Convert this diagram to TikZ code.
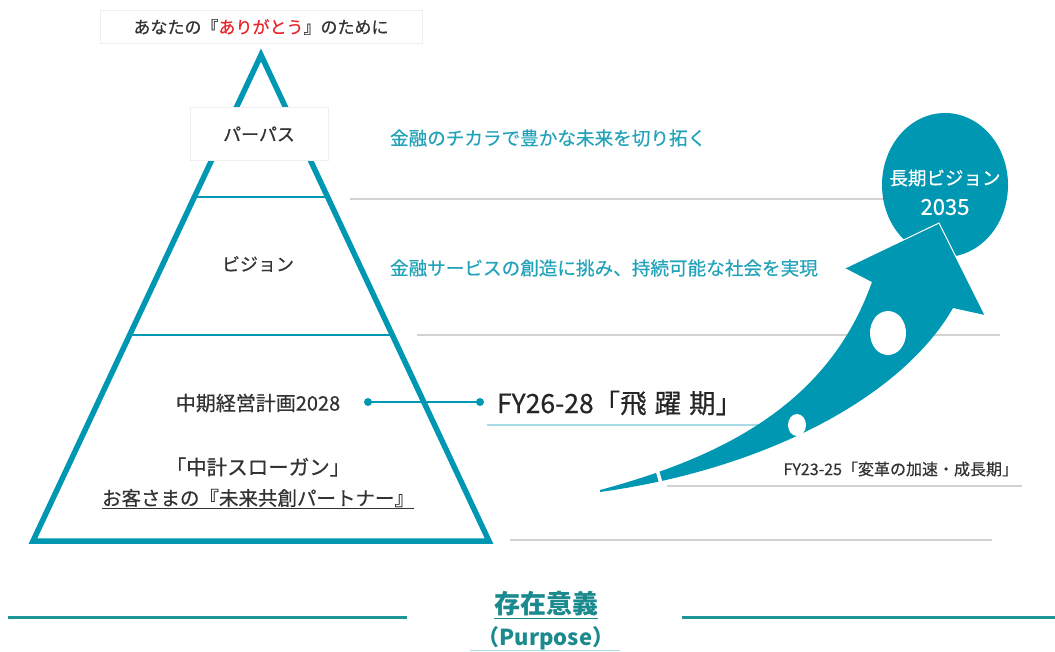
\documentclass[tikz,border=0pt]{standalone}
\usepackage{fontspec}
\setmainfont{Noto Sans CJK JP}
\newfontfamily\medf{Noto Sans CJK JP}[FakeBold=0.5]
\usetikzlibrary{shapes.geometric}
\definecolor{tealA}{HTML}{0097B2}
\definecolor{tealT}{HTML}{23A3BA}
\definecolor{tealL}{HTML}{A6DCE6}
\definecolor{tealB}{HTML}{1E9696}
\definecolor{tealBT}{HTML}{1B8A8E}
\definecolor{lgray}{HTML}{D2D2D2}
\definecolor{boxgray}{HTML}{EEEEEE}
\definecolor{txt}{HTML}{333333}
\definecolor{redT}{HTML}{E8262B}
\newcommand\fsz[1]{\fontsize{#1}{#1}\selectfont}
\begin{document}
\begin{tikzpicture}[x=1pt,y=-1pt,
  every node/.style={inner sep=0pt, outer sep=0pt},
  gline/.style={draw=lgray, line width=2},
  tri/.style={draw=tealA, line width=5.5, line join=miter},
  divider/.style={draw=tealA, line width=2.5},
  lbl/.style={text=txt},
  right txt/.style={text=tealT, anchor=west, font=\medf\fsz{18.6}},
  bline/.style={draw=tealB, line width=3}]
\useasboundingbox (0,0) rectangle (1055,651);
% gray guide lines
\draw[gline] (350,199) -- (1005,199);
\draw[gline] (417,335) -- (1000,335);
\draw[gline] (667,486) -- (1022,486);
\draw[gline] (510,540) -- (992,540);
% light teal underline of FY26-28
\draw[draw=tealL, line width=2] (487,425) -- (760,425);
% pyramid
\draw[divider] (195,197) -- (327,197);
\draw[divider] (130,335) -- (392,335);
\draw[tri] (261,55) -- (33,541) -- (489,541) -- cycle;
% top title box
\node[fill=white, draw=boxgray, minimum width=322, minimum height=33] (titlebox) at (261,27) {};
\node[font=\medf\fsz{17}] (title) at (261,27) {\color{txt}あなたの『\color{redT}ありがとう\color{txt}』のために};
% purpose box
\node[fill=white, draw=boxgray, minimum width=138, minimum height=53, lbl, font=\medf\fsz{18}] (purp) at (259,134) {パーパス};
\node[lbl, font=\medf\fsz{18}] (vis) at (258,264) {ビジョン};
\node[lbl, font=\medf\fsz{20}] (mid) at (258,403) {中期経営計画2028};
\node[lbl, font=\medf\fsz{20.5}] (slogan1) at (258,467) {「中計スローガン」};
\node[lbl, font=\medf\fsz{19.5}] (slogan2) at (258,499) {\underline{お客さまの『未来共創パートナー』}};
% right texts
\node[right txt] (purptxt) at (390,138) {金融のチカラで豊かな未来を切り拓く};
\node[right txt] (vistxt) at (390,268) {金融サービスの創造に挑み、持続可能な社会を実現};
\node[anchor=west, text=black!85, font=\medf\fsz{26.5}] (fy26) at (497,403) {FY26-28「飛\hspace{0.3em}躍\hspace{0.3em}期」};
\node[anchor=east, lbl, font=\medf\fsz{16}] (fy23) at (1018,469) {FY23-25「変革の加速・成長期」};
% connector
\coordinate (dA) at (368,402);
\coordinate (dB) at (480,402);
\draw[draw=tealA, line width=2] (dA) -- (dB);
\fill[tealA] (dA) circle (4);
\fill[tealA] (dB) circle (4);
% long-term vision circle
\node[ellipse, fill=tealA, minimum width=126, minimum height=144] (lv) at (945,185) {};
\node[text=white, font=\medf\fsz{18.5}] (lvtxt1) at (945,178) {長期ビジョン};
\node[text=white, font=\medf\fsz{22}] (lvtxt2) at (945,207) {2035};
% swoosh arrow
\fill[tealA] (600,490) .. controls (730,455) and (830,400) .. (872,282) -- (845,268) -- (939,223) -- (985,315) -- (953,308) .. controls (900,400) and (760,470) .. (600,492) -- cycle;
\draw[white, line width=1] (845,268) -- (939,223) -- (985,315);
\draw[white, line width=3.5] (656,466) -- (664,494);
\fill[white] (888,333) ellipse [x radius=18, y radius=22];
\fill[white] (797,425) ellipse [x radius=9, y radius=11];
% bottom purpose heading
\draw[bline] (8,617) -- (407,617);
\draw[bline] (682,617) -- (1055,617);
\node[text=tealBT, font=\fsz{26}\bfseries] (sonzai) at (546,605) {\underline{存在意義}};
\node[text=tealBT, font=\fsz{22}\bfseries] (purpose) at (546,638) {（Purpose）};
\draw[draw=tealL, line width=1] (470,650) -- (620,650);
\end{tikzpicture}
\end{document}
